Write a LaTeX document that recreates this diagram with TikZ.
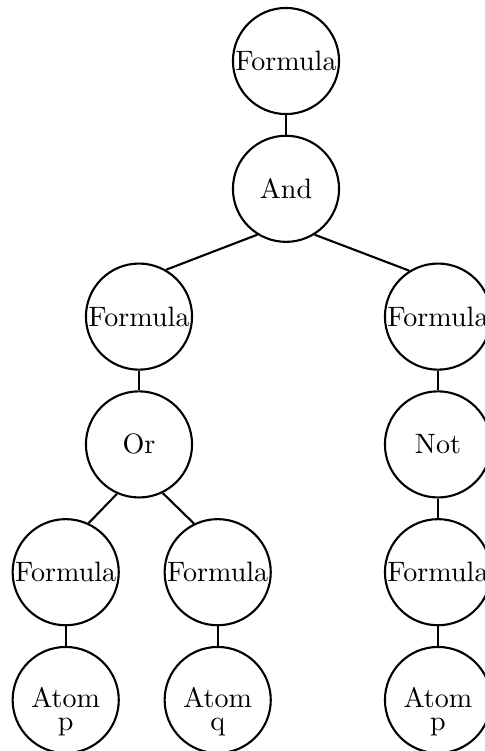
\documentclass[tikz,border=0pt]{standalone}
\begin{document}
\begin{tikzpicture}[x=0.3562pt,y=-0.3562pt,
  circ/.style={draw,circle,line width=0.75pt,minimum size=37.8pt,inner sep=0pt},
  atomlabel/.style={align=center,inner sep=0pt,yshift=-4.1pt},
  conn/.style={line width=0.75pt}]
\useasboundingbox (0,0) rectangle (485,751);
\node[circ] (f0) at (286,61) {Formula};
\node[circ] (and) at (286,188.8) {And};
\node[circ] (fl) at (139,316.6) {Formula};
\node[circ] (fr) at (438,316.6) {Formula};
\node[circ] (or) at (139,444.4) {Or};
\node[circ] (not) at (438,444.4) {Not};
\node[circ] (f1) at (65.7,572.2) {Formula};
\node[circ] (f2) at (217.7,572.2) {Formula};
\node[circ] (f3) at (438,572.2) {Formula};
\node[circ,label={[atomlabel]center:{Atom\\[-4pt]p}}] (a1) at (65.7,700) {};
\node[circ,label={[atomlabel]center:{Atom\\[-4pt]q}}] (a2) at (217.7,700) {};
\node[circ,label={[atomlabel]center:{Atom\\[-4pt]p}}] (a3) at (438,700) {};
\draw[conn] (f0) -- (and);
\draw[conn] (and.238) -- (fl.60);
\draw[conn] (and.302) -- (fr.122);
\draw[conn] (fl) -- (or);
\draw[conn] (fr) -- (not);
\draw[conn] (or.246) -- (f1.65);
\draw[conn] (or.296) -- (f2.116);
\draw[conn] (not) -- (f3);
\draw[conn] (f1) -- (a1);
\draw[conn] (f2) -- (a2);
\draw[conn] (f3) -- (a3);
\end{tikzpicture}
\end{document}
